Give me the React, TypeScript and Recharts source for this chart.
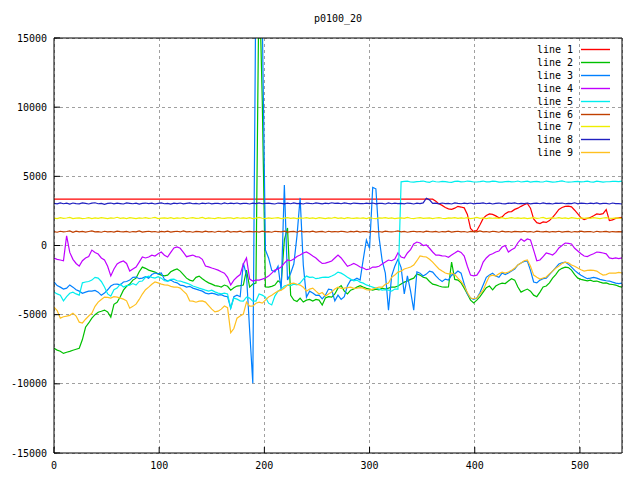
import { LineChart, Line, XAxis, YAxis, CartesianGrid } from "recharts";

// x positions of the samples (every 3 units)
const xs = [
  0, 3, 6, 9, 12, 15, 18, 21, 24, 27,
  30, 33, 36, 39, 42, 45, 48, 51, 54, 57,
  60, 63, 66, 69, 72, 75, 78, 81, 84, 87,
  90, 93, 96, 99, 102, 105, 108, 111, 114, 117,
  120, 123, 126, 129, 132, 135, 138, 141, 144, 147,
  150, 153, 156, 159, 162, 165, 168, 171, 174, 177,
  180, 183, 186, 189, 192, 195, 198, 201, 204, 207,
  210, 213, 216, 219, 222, 225, 228, 231, 234, 237,
  240, 243, 246, 249, 252, 255, 258, 261, 264, 267,
  270, 273, 276, 279, 282, 285, 288, 291, 294, 297,
  300, 303, 306, 309, 312, 315, 318, 321, 324, 327,
  330, 333, 336, 339, 342, 345, 348, 351, 354, 357,
  360, 363, 366, 369, 372, 375, 378, 381, 384, 387,
  390, 393, 396, 399, 402, 405, 408, 411, 414, 417,
  420, 423, 426, 429, 432, 435, 438, 441, 444, 447,
  450, 453, 456, 459, 462, 465, 468, 471, 474, 477,
  480, 483, 486, 489, 492, 495, 498, 501, 504, 507,
  510, 513, 516, 519, 522, 525, 528, 531, 534, 537,
  540,
];

const line1 = [
  3350, 3350, 3350, 3350, 3350, 3350, 3350, 3350, 3350, 3350,
  3350, 3350, 3350, 3350, 3350, 3350, 3350, 3350, 3350, 3350,
  3350, 3350, 3350, 3350, 3350, 3350, 3350, 3350, 3350, 3350,
  3350, 3350, 3350, 3350, 3350, 3350, 3350, 3350, 3350, 3350,
  3350, 3350, 3350, 3350, 3350, 3350, 3350, 3350, 3350, 3350,
  3350, 3350, 3350, 3350, 3350, 3350, 3350, 3350, 3350, 3350,
  3350, 3350, 3350, 3350, 3350, 3350, 3350, 3350, 3350, 3350,
  3350, 3350, 3350, 3350, 3350, 3350, 3350, 3350, 3350, 3350,
  3350, 3350, 3350, 3350, 3350, 3350, 3350, 3350, 3350, 3350,
  3350, 3350, 3350, 3350, 3350, 3350, 3350, 3350, 3350, 3350,
  3350, 3350, 3350, 3350, 3350, 3350, 3350, 3350, 3350, 3350,
  3350, 3350, 3350, 3350, 3350, 3350, 3350, 3350, 3350, 3350,
  3350, 3200, 3010, 2900, 2750, 2650, 2610, 2700, 2830, 2780,
  2720, 2250, 1230, 1000, 1090, 1500, 1960, 2170, 2280, 2250,
  2140, 2000, 2070, 2300, 2430, 2450, 2610, 2700, 2830, 2950,
  3040, 2700, 1920, 1650, 1590, 1700, 1670, 1800, 2030, 2300,
  2610, 2750, 2830, 2850, 2790, 2550, 2280, 2000, 1880, 1950,
  2030, 2150, 2280, 2250, 2300, 2600, 1800, 1850, 1960, 2000,
  2040,
];

const line2 = [
  -7430, -7560, -7640, -7800, -7720, -7650, -7570, -7500, -7430, -6800,
  -5910, -5600, -5250, -5000, -4820, -4750, -4670, -4800, -5180, -4250,
  -4100, -3700, -3230, -2950, -2790, -2500, -2360, -1900, -1560, -1650,
  -1780, -1850, -1920, -2050, -2140, -2200, -2140, -1900, -1780, -1700,
  -1850, -2100, -2360, -2500, -2570, -2300, -2210, -2400, -2570, -2700,
  -2790, -2900, -2930, -3000, -2860, -2950, -3230, -3050, -2930, -2900,
  -2860, -1780, -3010, -2790, -2720, 20000, 10500, -3000, -3010, -2950,
  -2860, -2550, -2720, 400, 1270, -3600, -3950, -4050, -3800, -4090,
  -3950, -3900, -4020, -3900, -3950, -4300, -3800, -3700, -3730, -3500,
  -3080, -2900, -3300, -3500, -3230, -3150, -3010, -2900, -3010, -3100,
  -3150, -3230, -3150, -3200, -3080, -3150, -3080, -3000, -3010, -2930,
  -2790, -2650, -2570, -2450, -2360, -2050, -2140, -2300, -2360, -2600,
  -2790, -2850, -2930, -3000, -3010, -3000, -1200, -2450, -2500, -2700,
  -3080, -3500, -3950, -4150, -3950, -3700, -3370, -3050, -2930, -3200,
  -2930, -2800, -2720, -2750, -2570, -2400, -2500, -3000, -3370, -3250,
  -3150, -3300, -3590, -3700, -3370, -3000, -2930, -2700, -2360, -2100,
  -1780, -1650, -1560, -1600, -1780, -2100, -2360, -2450, -2500, -2550,
  -2500, -2600, -2570, -2650, -2720, -2700, -2790, -2820, -2860, -2950,
  -3010,
];

const line3 = [
  -2640, -2900, -3010, -3150, -3080, -2850, -3010, -3200, -3300, -3450,
  -3370, -3300, -3300, -3250, -3370, -3600, -3440, -3200, -2930, -2800,
  -2790, -2850, -2640, -2600, -2500, -2300, -2280, -2400, -2360, -2250,
  -2360, -2100, -1990, -2050, -1990, -2450, -2570, -2500, -2640, -2700,
  -2860, -2900, -3010, -2950, -3080, -3150, -3230, -3300, -3440, -3500,
  -3440, -3500, -3590, -3550, -3660, -3700, -4530, -3700, -3590, -3700,
  -1270, -2140, -6120, -9960, 20000, 22000, 16500, -330, -900, -1800,
  -1920, -1500, -3230, 4380, -2500, -2000, -1340, 700, 3440, -1410,
  -3730, -3300, -3440, -3600, -3590, -3860, -3590, -3150, -3200, -4000,
  -3590, -3900, -3700, -2900, -2500, -2500, -2360, -2500, -1000, 400,
  -200, 4200, 4100, 600, -1100, -2000, -4670, -2200, -1500, -1000,
  -1600, -3500, -2200, -3300, -4670, -1900, -2000, -2200, -2070, -1850,
  -1920, -2200, -2430, -2600, -2430, -2500, -2140, -2050, -1850, -2000,
  -2790, -3500, -3800, -3900, -3800, -3400, -2860, -2300, -2140, -2000,
  -2210, -2300, -1990, -2100, -1990, -1850, -1700, -1400, -1270, -1150,
  -1120, -1800, -2640, -2700, -2500, -2400, -2360, -2100, -1850, -1600,
  -1340, -1250, -1200, -1350, -1560, -1800, -1990, -2150, -2280, -2400,
  -2360, -2300, -2360, -2450, -2500, -2550, -2570, -2650, -2720, -2750,
  -2720,
];

const line4 = [
  -905, -1000, -1050, -1100, 700, -500, -1000, -1300, -1490, -1100,
  -900, -800, -330, -500, -620, -900, -1050, -1500, -2200, -1700,
  -1340, -1200, -1120, -1300, -1850, -1700, -1560, -1200, -830, -900,
  -830, -700, -760, -600, -470, -700, -830, -500, -180, -100,
  -200, -500, -810, -750, -690, -800, -830, -1000, -1490, -1550,
  -1630, -1700, -1780, -1900, -2000, -2300, -2860, -2500, -2280, -2100,
  -1340, -900, -2430, -2570, -2500, -2500, -2430, -2350, -2210, -2000,
  -1780, -1700, -1560, -1270, -1050, -1100, -980, -800, -690, -540,
  -470, -600, -760, -900, -1120, -1300, -1270, -1200, -1120, -900,
  -690, -900, -1200, -1500, -1410, -1300, -1410, -1550, -1630, -1750,
  -1700, -1560, -1560, -1500, -1340, -1200, -1050, -1100, -980, -540,
  -830, -900, -540, -300, 110, 250, 180, 0, 40, -200,
  -470, -700, -690, -750, -760, -850, -690, -550, -400, -500,
  -760, -1500, -2140, -2200, -2140, -1800, -1200, -900, -690, -600,
  -470, -400, -110, 0, -470, -300, -180, 200, 470, 300,
  470, 400, -330, -1100, -1050, -800, -540, -600, -690, -500,
  -180, 0, 180, 150, 110, -200, -400, -600, -760, -800,
  -690, -600, -470, -500, -540, -600, -900, -950, -900, -950,
  -900,
];

const line5 = [
  -3370, -3500, -3590, -4000, -3700, -3450, -3370, -3500, -3590, -2700,
  -2640, -2600, -2500, -2300, -2360, -2600, -3000, -3500, -3660, -3200,
  -3080, -2800, -3000, -2900, -2860, -2750, -2860, -2600, -2570, -2300,
  -2210, -2300, -2360, -2250, -2360, -2550, -2570, -2450, -2430, -2550,
  -2570, -2650, -2720, -2800, -2930, -3000, -3080, -3150, -3230, -3300,
  -3230, -3350, -3440, -3500, -3440, -3500, -4530, -3800, -3880, -4000,
  -4020, -3730, -3800, -4020, -4020, -3510, -3590, -3730, -4170, -4300,
  -3660, -3300, -3150, -2930, -2860, -2900, -2790, -2850, -2720, -2430,
  -2210, -2300, -2280, -2400, -2360, -2300, -2280, -2300, -2210, -2100,
  -1920, -2000, -2140, -2300, -2430, -2550, -2500, -2650, -2720, -2850,
  -2930, -3010, -3080, -3150, -3230, -3200, -3230, -3300, -3150, -3150,
  4600, 4640, 4650, 4590, 4580, 4620, 4630, 4660, 4600, 4570,
  4660, 4610, 4590, 4640, 4620, 4580, 4570, 4630, 4650, 4600,
  4610, 4660, 4640, 4590, 4590, 4620, 4660, 4600, 4600, 4650,
  4630, 4580, 4580, 4620, 4640, 4600, 4610, 4660, 4590, 4620,
  4650, 4580, 4620, 4640, 4600, 4590, 4660, 4620, 4580, 4600,
  4630, 4670, 4610, 4580, 4590, 4620, 4640, 4600, 4620, 4650,
  4600, 4580, 4650, 4620, 4580, 4610, 4610, 4640, 4640, 4620,
  4660,
];

const line6 = [
  1000, 960, 1030, 980, 1010, 1050, 950, 1040, 990, 1020,
  970, 1010, 1050, 980, 1000, 960, 1030, 990, 1010, 970,
  1040, 1000, 980, 1020, 960, 1010, 990, 1050, 970, 1000,
  1030, 980, 1010, 960, 1020, 990, 1040, 970, 1000, 1030,
  980, 1060, 990, 1010, 960, 1020, 1000, 970, 1040, 990,
  1010, 960, 1030, 1000, 980, 1050, 970, 1010, 990, 1040,
  960, 1000, 1020, 980, 1010, 970, 1040, 990, 1000, 960,
  1030, 1010, 980, 1040, 970, 1000, 1020, 960, 1050, 990,
  1010, 980, 1040, 970, 1000, 1020, 960, 1030, 990, 1010,
  980, 1030, 1000, 960, 1020, 990, 1040, 970, 1010, 1000,
  960, 1030, 990, 1010, 970, 1040, 1000, 980, 1010, 1050,
  990, 1020, 960, 1000, 1030, 980, 1010, 970, 1040, 1000,
  980, 1020, 960, 1010, 990, 1040, 970, 1000, 1030, 980,
  1010, 960, 1020, 1000, 980, 1050, 990, 1010, 970, 1030,
  1000, 960, 1040, 990, 1010, 970, 1020, 1000, 980, 1030,
  990, 1010, 960, 1040, 1000, 980, 1020, 970, 1010, 990,
  1030, 970, 1000, 1020, 960, 1010, 990, 1040, 980, 1000,
  1010, 960, 1030, 990, 1000, 1020, 970, 1010, 990, 1000,
  990,
];

const line7 = [
  1980, 1940, 2010, 1960, 1990, 2030, 1950, 1980, 2000, 1940,
  1970, 2010, 1950, 1990, 1960, 2020, 1980, 1940, 2000, 1970,
  2040, 1960, 1990, 1950, 2010, 1980, 1940, 2000, 1970, 2020,
  1960, 1990, 2030, 1950, 1980, 2000, 1960, 2010, 1940, 1990,
  1970, 2020, 1950, 1990, 2010, 1960, 1980, 2030, 1950, 2000,
  1970, 1940, 2010, 1980, 1960, 2000, 1990, 1950, 2020, 1970,
  1990, 1960, 2010, 1950, 1980, 2030, 1970, 1940, 2000, 1960,
  1990, 2020, 1950, 1980, 2010, 1960, 1990, 1940, 2000, 1970,
  2020, 1960, 1990, 1950, 2010, 1980, 1940, 1990, 1970, 2030,
  1960, 1990, 1950, 2010, 1980, 1960, 2000, 1970, 1990, 1940,
  2010, 1970, 1950, 2000, 1980, 2020, 1960, 1990, 1940, 1980,
  2000, 1960, 2030, 1970, 1950, 1990, 2010, 1960, 1980, 2000,
  1950, 1990, 2020, 1970, 1940, 2000, 1980, 2010, 1960, 1990,
  1970, 2010, 1950, 1980, 2030, 1960, 1990, 1940, 2000, 1970,
  1990, 1960, 2010, 1950, 1980, 2020, 1970, 1990, 1960, 2000,
  1940, 1980, 2010, 1960, 1990, 2030, 1950, 1980, 2000, 1970,
  2010, 1960, 1990, 1950, 2020, 1980, 1940, 2000, 1970, 1990,
  1960, 2010, 1980, 1950, 1990, 2020, 1970, 1960, 2000, 1980,
  1970,
];

const line8 = [
  3050, 3010, 3080, 3020, 3060, 2990, 3070, 3030, 3010, 3080,
  3040, 3000, 3060, 3090, 3020, 3050, 2980, 3040, 3070, 3010,
  3060, 3030, 3000, 3080, 3050, 3020, 3060, 2990, 3040, 3070,
  3030, 3060, 3000, 3050, 3080, 3020, 3040, 2990, 3060, 3030,
  3070, 3010, 3050, 3080, 3020, 3040, 3000, 3060, 3030, 3070,
  3010, 3050, 3040, 3000, 3080, 3020, 3060, 3030, 3070, 3010,
  3040, 3050, 3000, 3060, 3030, 3080, 3020, 3050, 3060, 3030,
  3000, 3070, 3040, 3010, 3060, 3020, 3080, 3030, 3050, 3000,
  3070, 3040, 3020, 3080, 3050, 3010, 3060, 3030, 3090, 3040,
  3060, 3020, 3080, 3040, 3010, 3070, 3050, 3030, 3020, 3060,
  3030, 3070, 3010, 3050, 3040, 3000, 3080, 3020, 3060, 3030,
  3050, 3010, 3070, 3040, 3000, 3060, 3030, 3080, 3420, 3300,
  3040, 3060, 3010, 3070, 3030, 3050, 3000, 3080, 3040, 3020,
  3060, 3030, 3070, 3010, 3050, 3040, 3080, 3020, 3060, 3000,
  3050, 3070, 3030, 3010, 3060, 3040, 3080, 3020, 3050, 3030,
  3070, 3010, 3040, 3060, 3020, 3080, 3030, 3050, 3000, 3060,
  3040, 3070, 3020, 3050, 3030, 3090, 3010, 3060, 3040, 3020,
  3060, 3030, 3080, 3010, 3050, 3040, 3000, 3070, 3030, 3020,
  3000,
];

const line9 = [
  -4460, -4700, -5250, -5150, -5110, -5050, -4890, -5100, -5540, -5600,
  -5330, -5100, -4890, -4400, -4090, -3900, -3730, -3750, -3800, -3700,
  -3730, -3800, -3880, -4000, -4530, -4400, -4240, -3900, -3510, -3200,
  -3010, -2800, -2640, -2700, -2790, -2850, -2860, -2950, -3010, -3000,
  -3080, -3300, -3510, -4000, -4020, -4100, -4020, -4000, -4090, -4350,
  -4600, -4800, -4750, -4600, -4380, -4500, -6300, -6000, -5250, -5100,
  -4960, -4090, -4380, -4380, -4170, -4090, -4170, -3950, -3730, -3600,
  -3440, -3300, -3230, -3080, -2860, -2750, -2720, -2800, -2860, -3010,
  -3300, -3150, -3080, -3300, -3510, -3400, -3660, -3500, -3370, -3150,
  -3010, -3100, -3080, -3050, -3010, -3100, -3080, -3050, -3080, -3200,
  -3230, -3150, -3080, -3000, -3010, -2800, -2720, -2300, -2140, -1920,
  -1850, -1700, -1630, -1550, -1410, -1100, -760, -800, -830, -1000,
  -1200, -1450, -1700, -1850, -1990, -2050, -1990, -2100, -2360, -2600,
  -2930, -3400, -3800, -3850, -3800, -3500, -3230, -2700, -2210, -2150,
  -2210, -2050, -1920, -2000, -1920, -1800, -1630, -1400, -1270, -1100,
  -1050, -1500, -2140, -2300, -2430, -2350, -2280, -2050, -1850, -1650,
  -1490, -1300, -1200, -1250, -1410, -1500, -1630, -1750, -1850, -1800,
  -1780, -1800, -1850, -2000, -2140, -2100, -1990, -2000, -1990, -1950,
  -1990,
];

const xTicks = [0, 100, 200, 300, 400, 500];
const yTicks = [-15000, -10000, -5000, 0, 5000, 10000, 15000];

const SERIES = [
  { key: "l1", name: "line 1", color: "#ff0000", values: line1 },
  { key: "l2", name: "line 2", color: "#00c000", values: line2 },
  { key: "l3", name: "line 3", color: "#0080ff", values: line3 },
  { key: "l4", name: "line 4", color: "#c000ff", values: line4 },
  { key: "l5", name: "line 5", color: "#00eeee", values: line5 },
  { key: "l6", name: "line 6", color: "#c04000", values: line6 },
  { key: "l7", name: "line 7", color: "#eeee00", values: line7 },
  { key: "l8", name: "line 8", color: "#2020c0", values: line8 },
  { key: "l9", name: "line 9", color: "#ffc020", values: line9 },
];

const data = xs.map((x, i) => {
  const row: Record<string, number> = { x };
  SERIES.forEach((s) => (row[s.key] = s.values[i]));
  return row;
});

const FONT = '"DejaVu Sans Mono", "Liberation Mono", monospace';
const tickStyle = { fontFamily: FONT, fontSize: 10, fill: "#000" };

// gnuplot-style key in the top right corner of the plot
function Key() {
  return (
    <svg width={640} height={480} style={{ position: "absolute", left: 0, top: 0, pointerEvents: "none" }}>
      {SERIES.map((s, i) => {
        const y = Math.round(49 + i * 12.9) + 0.5;
        return (
          <g key={s.key}>
            <text x={573} y={y} dy="0.35em" textAnchor="end" fontFamily={FONT} fontSize={10} fill="#000">
              {s.name}
            </text>
            <line x1={581} x2={610} y1={y} y2={y} stroke={s.color} strokeWidth={1.4} />
          </g>
        );
      })}
    </svg>
  );
}

export default function App() {
  return (
    <div style={{ position: "relative", width: 640, height: 480, background: "#fff" }}>
      <style>{"body{margin:0}"}</style>
      <div
        style={{
          position: "absolute", left: 0, width: 676, top: 13, textAlign: "center",
          fontFamily: FONT, fontSize: 10, lineHeight: "12px", color: "#000",
        }}
      >
        p0100_20
      </div>
      <LineChart width={640} height={480} data={data} margin={{ top: 0, right: 0, bottom: 0, left: 0 }}>
        <CartesianGrid
          xAxisId="bottom" yAxisId="left" stroke="#a0a0a0" strokeDasharray="3 3" shapeRendering="crispEdges"
        />
        <XAxis
          xAxisId="bottom" dataKey="x" type="number" domain={[0, 540]} ticks={xTicks}
          height={27} tickSize={-6} tickMargin={15} tick={tickStyle}
          axisLine={{ stroke: "#000" }} tickLine={{ stroke: "#000" }} allowDataOverflow
        />
        <XAxis
          xAxisId="top" orientation="top" dataKey="x" type="number" domain={[0, 540]} ticks={xTicks}
          height={38} tickSize={-6} tick={false}
          axisLine={{ stroke: "#000" }} tickLine={{ stroke: "#000" }} allowDataOverflow
        />
        <YAxis
          yAxisId="left" type="number" domain={[-15000, 15000]} ticks={yTicks}
          width={54} tickSize={-6} tickMargin={13} tick={tickStyle} interval={0}
          axisLine={{ stroke: "#000" }} tickLine={{ stroke: "#000" }} allowDataOverflow
        />
        <YAxis
          yAxisId="right" orientation="right" type="number" domain={[-15000, 15000]} ticks={yTicks}
          width={18} tickSize={-6} tick={false} interval={0}
          axisLine={{ stroke: "#000" }} tickLine={{ stroke: "#000" }} allowDataOverflow
        />
        {SERIES.map((s) => (
          <Line
            key={s.key}
            xAxisId="bottom"
            yAxisId="left"
            type="linear"
            dataKey={s.key}
            name={s.name}
            stroke={s.color}
            strokeWidth={1.2}
            dot={false}
            activeDot={false}
            isAnimationActive={false}
          />
        ))}
      </LineChart>
      <Key />
    </div>
  );
}
